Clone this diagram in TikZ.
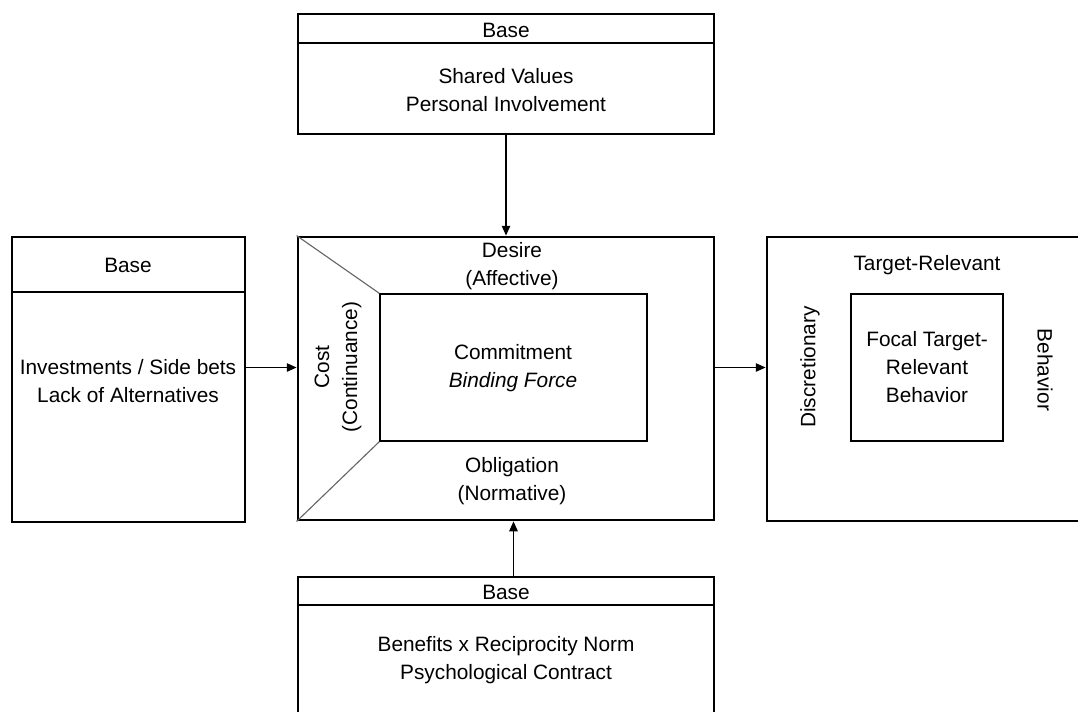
\documentclass[tikz,border=0pt]{standalone}
\usepackage{fontspec}
\setmainfont{Liberation Sans}
\usetikzlibrary{arrows.meta,calc}

\begin{document}
\begin{tikzpicture}[
    x=0.025cm, y=-0.025cm,
    >={Triangle[length=7pt,width=6pt]},
    line join=miter,
    font=\fontsize{14.8}{19.9}\selectfont,
    outerbox/.style={draw, line width=2pt, inner sep=0pt},
    innerbox/.style={draw, line width=1pt, inner sep=0pt},
    diag/.style={draw=black!60, line width=0.8pt},
    lbl/.style={align=center, inner sep=0pt},
    link/.style={->, line width=0.9pt}
]

% -----------------------
% Parameters
% -----------------------
\def\u{0.025cm}

\useasboundingbox (0,0) rectangle (1078,711);
\clip (0,0) rectangle (1078,711);

% -----------------------
% Boxes
% -----------------------
\node[outerbox, minimum width=416*\u, minimum height=120*\u] (topbase) at (506,74) {};
\node[outerbox, minimum width=233*\u, minimum height=285*\u] (leftbase) at (128.5,379.5) {};
\node[outerbox, minimum width=416*\u, minimum height=283*\u] (core) at (506,378.5) {};
\node[outerbox, minimum width=333*\u, minimum height=284*\u] (target) at (933.5,379) {};
\node[outerbox, minimum width=416*\u, minimum height=163*\u] (botbase) at (506,658.5) {};

% inner rectangles
\node[innerbox, minimum width=267*\u, minimum height=147*\u] (commit) at (513.5,367.5) {};
\node[innerbox, minimum width=152*\u, minimum height=147*\u] (focal) at (927,367.5) {};

% header lines
\draw[line width=2pt] (topbase.west |- 0,43) -- (topbase.east |- 0,43);
\draw[line width=2pt] (leftbase.west |- 0,292) -- (leftbase.east |- 0,292);
\draw[line width=2pt] (botbase.west |- 0,605) -- (botbase.east |- 0,605);

% corner diagonals
\draw[diag] (core.north west) -- (commit.north west);
\draw[diag] (core.south west) -- (commit.south west);

% -----------------------
% Labels
% -----------------------
\node[lbl] (topbasetxt) at (506,30) {Base};
\node[lbl] (sharedtxt) at (506,90) {Shared Values\\Personal Involvement};

\node[lbl] (leftbasetxt) at (128,265) {Base};
\node[lbl] (investtxt) at (128,381) {Investments / Side bets\\Lack of Alternatives};

\node[lbl] (botbasetxt) at (506,592) {Base};
\node[lbl] (benefittxt) at (506,660) {Benefits x Reciprocity Norm\\Psychological Contract};

\node[lbl] (desiretxt) at (512,266) {Desire\\(Affective)};
\node[lbl] (committxt) at (513,368) {Commitment\\\textit{Binding Force}};
\node[lbl] (obligtxt) at (512,481) {Obligation\\(Normative)};
\node[lbl, rotate=90] (costtxt) at (338,367) {Cost\\(Continuance)};

\node[lbl] (targettxt) at (927,265) {Target-Relevant};
\node[lbl] (focaltxt) at (927,367) {Focal Target-\\Relevant\\Behavior};
\node[lbl, rotate=90] (discrtxt) at (810,367) {Discretionary};
\node[lbl, rotate=-90] (behavtxt) at (1045,370) {Behavior};

% -----------------------
% Arrows
% -----------------------
\draw[link] (topbase.south) -- (core.north);
\draw[link] (botbase.north -| commit) -- (core.south -| commit);
\draw[link] (leftbase.east |- commit) -- (core.west |- commit);
\draw[link] (core.east |- commit) -- (target.west |- commit);

\end{tikzpicture}
\end{document}
